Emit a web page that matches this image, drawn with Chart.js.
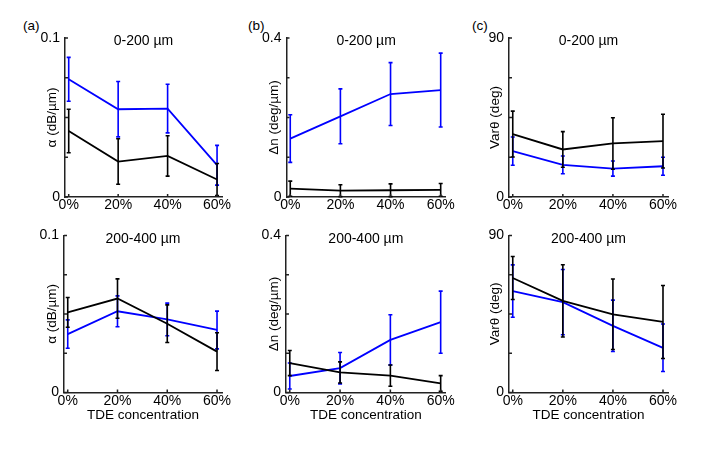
<!DOCTYPE html>
<html>
<head>
<meta charset="utf-8">
<script src="https://cdn.jsdelivr.net/npm/chart.js@4.4.1/dist/chart.umd.min.js"></script>
<style>
  body { margin: 0; background: #fff; width: 727px; height: 451px; position: relative; overflow: hidden;
         font-family: "Liberation Sans", Arial, sans-serif; }
  canvas { position: absolute; }
  .tag { position: absolute; font-size: 13.5px; line-height: 15px; color: #000; }
</style>
</head>
<body>
<div class="tag" style="left:23px;top:18px">(a)</div>
<div class="tag" style="left:248px;top:18px">(b)</div>
<div class="tag" style="left:472px;top:18px">(c)</div>

<canvas id="a1" width="242" height="222" style="left:0;top:0"></canvas>
<canvas id="b1" width="242" height="222" style="left:242px;top:0"></canvas>
<canvas id="c1" width="243" height="222" style="left:484px;top:0"></canvas>
<canvas id="a2" width="242" height="229" style="left:0;top:222px"></canvas>
<canvas id="b2" width="242" height="229" style="left:242px;top:222px"></canvas>
<canvas id="c2" width="243" height="229" style="left:484px;top:222px"></canvas>

<script>
// TDE concentration (%)
const concentrations = [0, 20, 40, 60];

// attenuation α (dB/µm), 0-200 µm
const alphaTopBlack = [0.0415, 0.0223, 0.0258, 0.011];
const alphaTopBlackErr = [0.0137, 0.0143, 0.0127, 0.0101];
const alphaTopBlue = [0.074, 0.0552, 0.0556, 0.020];
const alphaTopBlueErr = [0.0138, 0.0174, 0.0153, 0.0125];
// attenuation α, 200-400 µm
const alphaBotBlack = [0.051, 0.0598, 0.0438, 0.026];
const alphaBotBlackErr = [0.0095, 0.0125, 0.012, 0.012];
const alphaBotBlue = [0.0372, 0.0517, 0.0465, 0.0398];
const alphaBotBlueErr = [0.009, 0.0098, 0.0104, 0.012];

// birefringence Δn (deg/µm), 0-200 µm
const dnTopBlack = [0.021, 0.016, 0.017, 0.018];
const dnTopBlackErr = [0.019, 0.015, 0.016, 0.016];
const dnTopBlue = [0.147, 0.203, 0.259, 0.269];
const dnTopBlueErr = [0.060, 0.069, 0.079, 0.093];
// Δn, 200-400 µm
const dnBotBlack = [0.075, 0.051, 0.043, 0.023];
const dnBotBlackErr = [0.032, 0.027, 0.027, 0.020];
const dnBotBlue = [0.042, 0.062, 0.134, 0.179];
const dnBotBlueErr = [0.033, 0.040, 0.064, 0.079];

// Varθ (deg), 0-200 µm
const varTopBlack = [35.6, 26.9, 30.3, 31.6];
const varTopBlackErr = [13, 10.1, 14.6, 15.2];
const varTopBlue = [26.0, 18.2, 16.1, 17.4];
const varTopBlueErr = [8.0, 5.0, 4.3, 5.1];
// Varθ, 200-400 µm
const varBotBlack = [65.6, 52.5, 44.8, 40.4];
const varBotBlackErr = [12.3, 20.7, 20.2, 20.9];
const varBotBlue = [58.1, 51.8, 38.2, 25.6];
const varBotBlueErr = [15, 18.7, 14.7, 13.6];

const axisColor = '#222';
const fontFamily = '"Liberation Sans", Arial, sans-serif';
Chart.defaults.font.family = fontFamily;
Chart.defaults.font.size = 14;
Chart.defaults.color = '#000';

// error bars, drawn right after each line so black ends up on top
const errorBars = {
    id: 'errorBars',
    afterDatasetDraw(chart, args) {
        const ds = chart.data.datasets[args.index];
        const {ctx} = chart;
        const x = chart.scales.x, y = chart.scales.y;
        ctx.save();
        ctx.strokeStyle = ds.borderColor;
        ctx.lineWidth = 1.6;
        ds.data.forEach((p, i) => {
            const px = x.getPixelForValue(p.x);
            const hi = y.getPixelForValue(p.y + ds.errors[i]);
            const lo = y.getPixelForValue(p.y - ds.errors[i]);
            ctx.beginPath();
            ctx.moveTo(px, hi); ctx.lineTo(px, lo);
            ctx.moveTo(px - 2, hi); ctx.lineTo(px + 2, hi);
            ctx.moveTo(px - 2, lo); ctx.lineTo(px + 2, lo);
            ctx.stroke();
        });
        ctx.restore();
    }
};

// matlab style tick marks pointing into the plot, plus the title inside the box
const innerDecor = {
    id: 'innerDecor',
    afterDraw(chart) {
        const {ctx, chartArea} = chart;
        const x = chart.scales.x, y = chart.scales.y;
        ctx.save();
        ctx.strokeStyle = axisColor;
        ctx.lineWidth = 1.5;
        ctx.beginPath();
        x.ticks.forEach(t => {
            const px = x.getPixelForValue(t.value);
            ctx.moveTo(px, chartArea.bottom); ctx.lineTo(px, chartArea.bottom - 3);
        });
        y.ticks.forEach(t => {
            const py = y.getPixelForValue(t.value);
            ctx.moveTo(chartArea.left, py); ctx.lineTo(chartArea.left + 3, py);
        });
        ctx.stroke();
        const txt = chart.options.plugins.innerDecor.text;
        ctx.fillStyle = '#000';
        ctx.font = '14px ' + fontFamily;
        ctx.textAlign = 'center';
        ctx.textBaseline = 'middle';
        ctx.fillText(txt, (chartArea.left + chartArea.right) / 2, chartArea.top + 3.5);
        ctx.restore();
    }
};

function points(vals) {
    return concentrations.map((c, i) => ({x: c, y: vals[i]}));
}

function makePanel(id, p) {
    const el = document.getElementById(id);
    const box = {x: el.offsetLeft, y: el.offsetTop, w: el.width, h: el.height};
    const yStep = p.yMax / 4;
    const titleFont = {size: 13.5};
    const half = 13.5 * 1.2 / 2;
    new Chart(el.getContext('2d'), {
        type: 'line',
        data: {
            datasets: [
                {data: points(p.black), errors: p.blackErr, borderColor: '#000', borderWidth: 1.8},
                {data: points(p.blue), errors: p.blueErr, borderColor: '#0000ff', borderWidth: 1.8}
            ]
        },
        options: {
            responsive: false,
            animation: false,
            layout: {padding: {left: 0, top: p.area.t - box.y, right: box.x + box.w - p.area.r, bottom: 0}},
            elements: {point: {radius: 0}, line: {tension: 0}},
            plugins: {legend: {display: false}, tooltip: {enabled: false}, innerDecor: {text: p.title}},
            scales: {
                x: {
                    type: 'linear', min: -1.5, max: 62,
                    grid: {display: false, drawTicks: false},
                    border: {display: true, color: axisColor, width: 1.5},
                    afterBuildTicks: s => { s.ticks = concentrations.map(v => ({value: v})); },
                    afterFit: s => { s.height = box.y + box.h - p.area.b; },
                    ticks: {padding: 0, maxRotation: 0, autoSkip: false, callback: v => v + '%'},
                    title: {
                        display: p.xTitle, text: 'TDE concentration', font: titleFont,
                        padding: {top: 0, bottom: box.y + box.h - 415 - half}
                    }
                },
                y: {
                    min: 0, max: p.yMax,
                    grid: {display: false, drawTicks: false},
                    border: {display: true, color: axisColor, width: 1.5},
                    afterBuildTicks: s => { s.ticks = [0, 1, 2, 3, 4].map(k => ({value: k * yStep})); },
                    afterFit: s => { s.width = p.area.l - box.x; },
                    ticks: {padding: 5, callback: (v, i, t) => (i === 0 || i === t.length - 1) ? String(v) : ''},
                    title: {
                        display: true, text: p.yLabel, font: titleFont,
                        padding: {top: p.yTitleX - box.x - half, bottom: 0}
                    }
                }
            }
        },
        plugins: [errorBars, innerDecor]
    });
}

makePanel('a1', {title: '0-200 µm', yLabel: 'α (dB/µm)', yMax: 0.1, yTitleX: 52, xTitle: false,
    area: {l: 65, r: 222, t: 38, b: 197},
    black: alphaTopBlack, blackErr: alphaTopBlackErr, blue: alphaTopBlue, blueErr: alphaTopBlueErr});
makePanel('b1', {title: '0-200 µm', yLabel: 'Δn (deg/µm)', yMax: 0.4, yTitleX: 274, xTitle: false,
    area: {l: 286.5, r: 445.7, t: 38, b: 197},
    black: dnTopBlack, blackErr: dnTopBlackErr, blue: dnTopBlue, blueErr: dnTopBlueErr});
makePanel('c1', {title: '0-200 µm', yLabel: 'Varθ (deg)', yMax: 90, yTitleX: 495, xTitle: false,
    area: {l: 509, r: 668, t: 38, b: 197},
    black: varTopBlack, blackErr: varTopBlackErr, blue: varTopBlue, blueErr: varTopBlueErr});
makePanel('a2', {title: '200-400 µm', yLabel: 'α (dB/µm)', yMax: 0.1, yTitleX: 52, xTitle: true,
    area: {l: 64, r: 222, t: 233, b: 392.5},
    black: alphaBotBlack, blackErr: alphaBotBlackErr, blue: alphaBotBlue, blueErr: alphaBotBlueErr});
makePanel('b2', {title: '200-400 µm', yLabel: 'Δn (deg/µm)', yMax: 0.4, yTitleX: 274, xTitle: true,
    area: {l: 286, r: 445.7, t: 233, b: 392.5},
    black: dnBotBlack, blackErr: dnBotBlackErr, blue: dnBotBlue, blueErr: dnBotBlueErr});
makePanel('c2', {title: '200-400 µm', yLabel: 'Varθ (deg)', yMax: 90, yTitleX: 495, xTitle: true,
    area: {l: 509, r: 668, t: 233, b: 392.5},
    black: varBotBlack, blackErr: varBotBlackErr, blue: varBotBlue, blueErr: varBotBlueErr});
</script>
</body>
</html>
